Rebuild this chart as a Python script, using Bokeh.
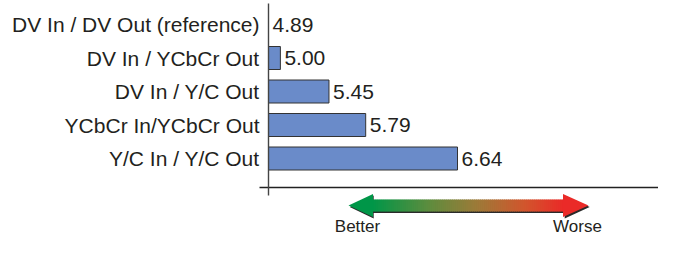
from bokeh.plotting import figure
from bokeh.models import Range1d, ColumnDataSource
from bokeh.core.properties import value
from bokeh.embed import file_html
from bokeh.resources import INLINE

# ---- data ----
categories = ["DV In / DV Out (reference)", "DV In / YCbCr Out", "DV In / Y/C Out",
              "YCbCr In/YCbCr Out", "Y/C In / Y/C Out"]
scores = [4.89, 5.00, 5.45, 5.79, 6.64]
value_labels = ["4.89", "5.00", "5.45", "5.79", "6.64"]
scale_labels = ["Better", "Worse"]

# ---- layout constants (pixels) ----
BASE = scores[0]
W, H = 658, 237
PX_PER_UNIT = 108.0
AXIS_PX = 268.0
ROW_PX = 33.5
ROW0_PX = 24.0
BAR_PX = 23.0

x_start = BASE - AXIS_PX / PX_PER_UNIT
x_end = x_start + W / PX_PER_UNIT
y_top = -ROW0_PX / ROW_PX
y_bottom = y_top + H / ROW_PX


def X(px):
    return x_start + px / PX_PER_UNIT


def Y(py):
    return y_top + py / ROW_PX


FONT = value("Liberation Sans")
TEXT_COLOR = "#231f20"

p = figure(width=W, height=H,
           x_range=Range1d(x_start, x_end), y_range=Range1d(y_bottom, y_top),
           x_axis_type=None, y_axis_type=None,
           toolbar_location=None, output_backend="svg",
           min_border=0, min_border_left=0, min_border_right=0,
           min_border_top=0, min_border_bottom=0,
           outline_line_color=None, background_fill_color="white",
           border_fill_color="white")

rows = list(range(len(categories)))
src = ColumnDataSource(dict(y=rows, cat=categories, v=scores, lab=value_labels,
                            base=[BASE] * len(scores)))

# bars
p.hbar(y="y", left="base", right="v", height=BAR_PX / ROW_PX, source=src,
       fill_color="#6a8bc9", line_color="#333333", line_width=1)

# axis lines
p.segment(x0=[X(259)], y0=[Y(187)], x1=[X(W)], y1=[Y(187)],
          line_color="#222222", line_width=1.6)
p.segment(x0=[BASE], y0=[Y(3)], x1=[BASE], y1=[Y(195)],
          line_color="#444444", line_width=1.4)

# category labels
p.text(x="base", y="y", text="cat", source=src, x_offset=-9,
       text_align="right", text_baseline="middle",
       text_font=FONT, text_font_size="21px", text_color=TEXT_COLOR)
# value labels
p.text(x="v", y="y", text="lab", source=src, x_offset=4,
       text_align="left", text_baseline="middle",
       text_font=FONT, text_font_size="21px", text_color=TEXT_COLOR)

# ---- gradient arrow ----
cy = 205.0
SH, HH = 6.0, 11.5
LT, LB, RB, RT = 348.0, 372.0, 563.0, 588.0


def arrow_poly(dx=0.0, dy=0.0):
    pts = [(LT, cy), (LB, cy - HH), (LB, cy - SH), (RB, cy - SH), (RB, cy - HH),
           (RT, cy), (RB, cy + HH), (RB, cy + SH), (LB, cy + SH), (LB, cy + HH)]
    return [X(a + dx) for a, b in pts], [Y(b + dy) for a, b in pts]


sx, sy = arrow_poly(1.2, 1.6)
p.patch(sx, sy, fill_color="#2a2a2a", line_color=None)

stops = [(0.0, (0, 150, 72)), (0.3, (95, 140, 62)), (0.55, (158, 122, 56)),
         (0.8, (210, 85, 45)), (1.0, (234, 42, 40))]


def grad(t):
    for (t0, c0), (t1, c1) in zip(stops[:-1], stops[1:]):
        if t <= t1:
            f = (t - t0) / (t1 - t0) if t1 > t0 else 0
            return "#%02x%02x%02x" % tuple(int(round(a + (b - a) * f)) for a, b in zip(c0, c1))
    return "#%02x%02x%02x" % stops[-1][1]


n = 96
g0, g1 = LB - 1, RB + 1
step = (g1 - g0) / n
lefts, rights, cols = [], [], []
for i in range(n):
    a = g0 + i * step
    lefts.append(X(a))
    rights.append(X(a + step + 0.8))
    cols.append(grad(i / (n - 1)))
p.quad(left=lefts, right=rights, top=[Y(cy - SH)] * n, bottom=[Y(cy + SH)] * n,
       fill_color=cols, line_color=None)

p.patch([X(LT), X(LB + 0.5), X(LB + 0.5)], [Y(cy), Y(cy - HH), Y(cy + HH)],
        fill_color=grad(0.0), line_color=None)
p.patch([X(RT), X(RB - 0.5), X(RB - 0.5)], [Y(cy), Y(cy - HH), Y(cy + HH)],
        fill_color=grad(1.0), line_color=None)

p.text(x=[X(357), X(577)], y=[Y(226), Y(226)], text=scale_labels,
       text_align="center", text_baseline="middle",
       text_font=FONT, text_font_size="17px",
       text_color=TEXT_COLOR)

open("out.html", "w").write(file_html(p, INLINE))
